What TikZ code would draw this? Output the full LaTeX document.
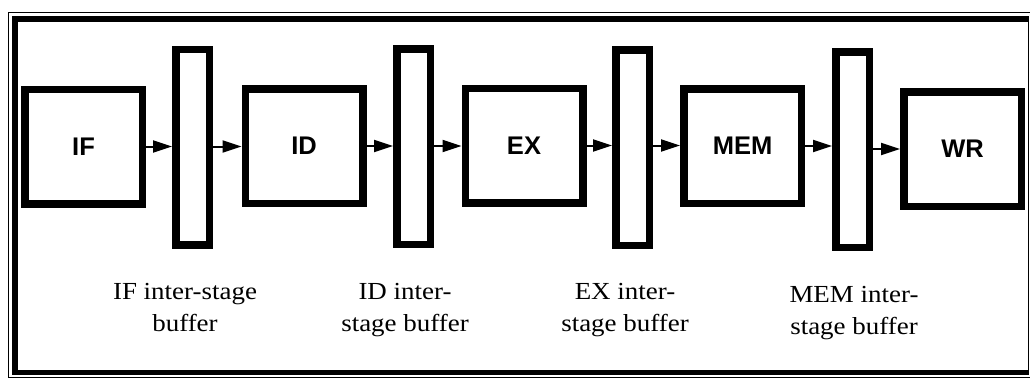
\documentclass[tikz,border=0pt]{standalone}
\usepackage{fontspec}
\setmainfont{Liberation Serif}
\newfontfamily\labelfont[FakeStretch=1.1]{Liberation Serif}
\newfontfamily\boxfont{Liberation Sans}
\usetikzlibrary{arrows.meta}
\begin{document}
\begin{tikzpicture}[x=1pt,y=-1pt,
  stagebox/.style={draw,line width=7.5pt,inner sep=0pt,minimum width=117.5pt,minimum height=114.5pt,
    font=\boxfont\bfseries\fontsize{25.5}{30}\selectfont},
  bufbox/.style={draw,line width=7.5pt,inner sep=0pt,minimum width=33.5pt,minimum height=195.5pt},
  arr/.style={line width=2pt,-{Triangle[length=19pt,width=12pt]}},
  caption/.style={align=center,inner sep=0pt,anchor=base,font=\labelfont\fontsize{24.5}{32}\selectfont}]
\useasboundingbox (0,0) rectangle (1031,378);
% frame
\draw[line width=0.9pt] (8,377) -- (8,12) -- (1030,12);
\draw[line width=6pt] (14.5,372.5) -- (14.5,18.5) -- (1028,18.5);
\draw[line width=5pt] (12,372.5) -- (1028,372.5);
\draw[line width=1.2pt] (1028.5,16) -- (1028.5,375);
\draw[line width=0.8pt] (8,377) -- (1030,377);
% stages
\node[stagebox] (IF)  at (83.5,146.5) {IF};
\node[stagebox] (ID)  at (304,146) {ID};
\node[stagebox] (EX)  at (524,145.5) {EX};
\node[stagebox] (MEM) at (742.5,146) {MEM};
\node[stagebox] (WR)  at (962.5,149) {WR};
% buffers
\node[bufbox] (B1) at (192.5,147) {};
\node[bufbox] (B2) at (413.5,146.5) {};
\node[bufbox] (B3) at (632.5,147.5) {};
\node[bufbox] (B4) at (852.5,149.5) {};
% arrows
\draw[arr] (IF.east) -- (IF.east -| B1.west);
\draw[arr] (B1.east |- IF.east) -- (B1.east |- IF.east -| ID.west);
\draw[arr] (ID.east) -- (ID.east -| B2.west);
\draw[arr] (B2.east |- ID.east) -- (B2.east |- ID.east -| EX.west);
\draw[arr] (EX.east) -- (EX.east -| B3.west);
\draw[arr] (B3.east |- EX.east) -- (B3.east |- EX.east -| MEM.west);
\draw[arr] (MEM.east) -- (MEM.east -| B4.west);
\draw[arr] (B4.east |- WR.west) -- (WR.west);
% captions (anchor at baseline of the last line)
\node[caption] (L1) at (185,331) {IF inter-stage\\buffer};
\node[caption] (L2) at (405,331) {ID inter-\\stage buffer};
\node[caption] (L3) at (625,331) {EX inter-\\stage buffer};
\node[caption] (L4) at (854,334) {MEM inter-\\stage buffer};
\end{tikzpicture}
\end{document}
